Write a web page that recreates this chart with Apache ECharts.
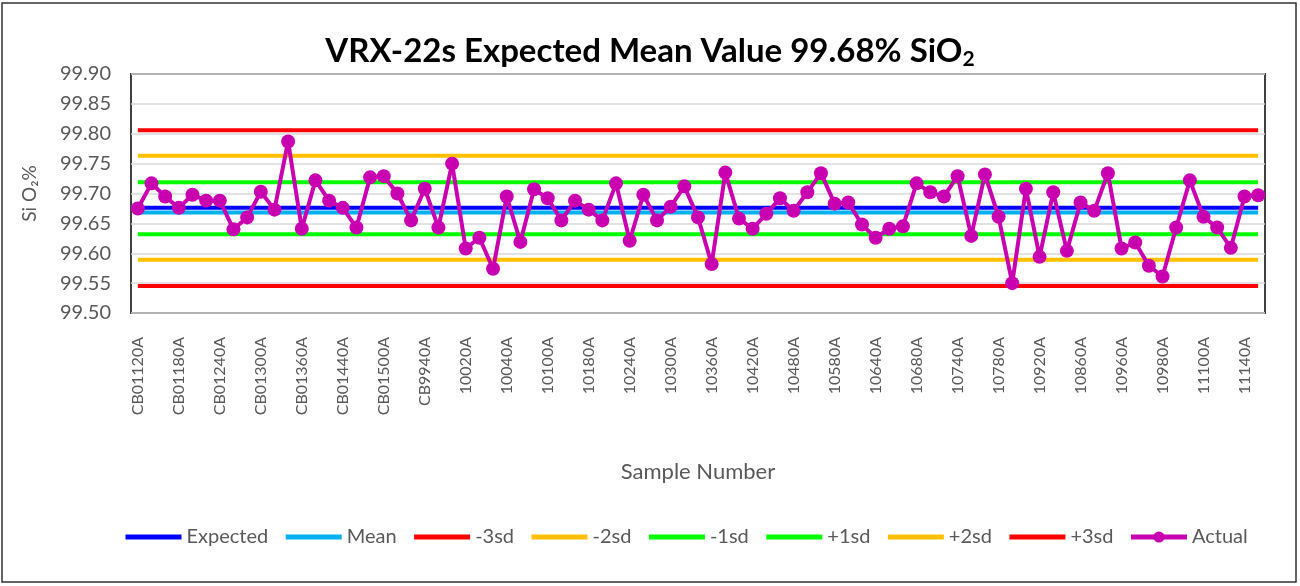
<!DOCTYPE html>
<html>
<head>
<meta charset="utf-8">
<script src="https://cdn.jsdelivr.net/npm/echarts@6/dist/echarts.min.js"></script>
<style>
  body { margin: 0; background: #fff; }
  #chart { width: 1300px; height: 586px; }
</style>
</head>
<body>
<div id="chart"></div>
<script>
// tick labels visible on the x axis (every third sample)
const shownLabels = [
  'CB01120A', 'CB01180A', 'CB01240A', 'CB01300A', 'CB01360A', 'CB01440A', 'CB01500A',
  'CB9940A', '10020A', '10040A', '10100A', '10180A', '10240A', '10300A',
  '10360A', '10420A', '10480A', '10580A', '10640A', '10680A', '10740A',
  '10780A', '10920A', '10860A', '10960A', '10980A', '11100A', '11140A'
]

// SiO2 % per sample
const actual = [
  99.675, 99.717, 99.695, 99.676, 99.698, 99.688, 99.688, 99.640, 99.660, 99.703,
  99.673, 99.787, 99.641, 99.722, 99.688, 99.676, 99.643, 99.727, 99.729, 99.700,
  99.655, 99.708, 99.643, 99.750, 99.608, 99.626, 99.574, 99.695, 99.619, 99.707,
  99.692, 99.655, 99.688, 99.673, 99.655, 99.717, 99.621, 99.698, 99.655, 99.678,
  99.712, 99.660, 99.582, 99.735, 99.658, 99.641, 99.666, 99.692, 99.671, 99.702,
  99.734, 99.683, 99.685, 99.648, 99.626, 99.641, 99.645, 99.717, 99.702, 99.695,
  99.729, 99.629, 99.732, 99.661, 99.550, 99.708, 99.594, 99.702, 99.604, 99.685,
  99.671, 99.734, 99.608, 99.618, 99.579, 99.561, 99.643, 99.722, 99.661, 99.643,
  99.609, 99.695, 99.697
]

// horizontal reference lines
const lineNames = ['Expected', 'Mean', '-3sd', '-2sd', '-1sd', '+1sd', '+2sd', '+3sd']
const lineValues = [99.676, 99.668, 99.545, 99.589, 99.632, 99.719, 99.763, 99.806]
const lineColors = ['#0000FF', '#00B0F0', '#FF0000', '#FFC000', '#00FF00', '#00FF00', '#FFC000', '#FF0000']

// build category list: only every third label is shown
let categories = []
for (let i = 0; i < actual.length; i++) {
  categories.push(i % 3 === 0 ? shownLabels[i / 3] : '')
}

const font = 'Lato, "Open Sans", sans-serif'
const grey = '#595959'

let series = []
let legendData = []
for (let i = 0; i < lineNames.length; i++) {
  series.push({
    name: lineNames[i],
    type: 'line',
    symbol: 'none',
    data: categories.map(function () { return lineValues[i] }),
    lineStyle: { width: 4, color: lineColors[i] },
    itemStyle: { color: lineColors[i] },
    silent: true
  })
  // plain line in the legend, no marker
  legendData.push({ name: lineNames[i], itemStyle: { opacity: 0 } })
}
series.push({
  name: 'Actual',
  type: 'line',
  data: actual,
  symbol: 'circle',
  symbolSize: 14,
  lineStyle: { width: 4, color: '#C800B0' },
  itemStyle: { color: '#C800B0' },
  z: 5
})
legendData.push({ name: 'Actual' })

let myChart = echarts.init(document.getElementById('chart'))
myChart.setOption({
  animation: false,
  textStyle: { fontFamily: font },
  title: {
    text: '{a|VRX-22s Expected Mean Value 99.68% SiO}{b|2}',
    left: 'center',
    top: 28,
    textStyle: {
      rich: {
        a: { fontSize: 33, fontWeight: 'bold', color: '#000', fontFamily: font },
        b: { fontSize: 21, fontWeight: 'bold', color: '#000', fontFamily: font, padding: [16, 0, 0, 0] }
      }
    }
  },
  graphic: [{
    type: 'rect',
    shape: { x: 2, y: 3, width: 1294, height: 579 },
    style: { fill: 'none', stroke: '#333', lineWidth: 1.5 },
    silent: true
  }],
  legend: {
    top: 522,
    left: 118,
    itemWidth: 56,
    itemHeight: 14,
    itemGap: 15,
    lineStyle: { width: 5 },
    textStyle: { color: grey, fontSize: 20, fontFamily: font },
    data: legendData
  },
  grid: {
    left: 131,
    right: 35,
    top: 74,
    bottom: 273,
    show: true,
    borderColor: '#404040',
    borderWidth: 2
  },
  xAxis: {
    type: 'category',
    data: categories,
    boundaryGap: true,
    name: 'Sample Number',
    nameLocation: 'middle',
    nameGap: 148,
    nameTextStyle: { color: grey, fontSize: 22 },
    axisLine: { show: false },
    axisTick: { show: false },
    axisLabel: { interval: 0, rotate: 90, color: grey, fontSize: 16, margin: 24 }
  },
  yAxis: {
    type: 'value',
    min: 99.5,
    max: 99.9,
    interval: 0.05,
    name: 'Si O₂%',
    nameLocation: 'middle',
    nameGap: 92,
    nameRotate: 90,
    nameTextStyle: { color: grey, fontSize: 19 },
    axisLine: { show: false },
    axisTick: { show: false },
    axisLabel: {
      color: grey,
      fontSize: 20,
      margin: 20,
      formatter: function (v) { return v.toFixed(2) }
    },
    splitLine: { lineStyle: { color: '#D9D9D9', width: 1.5 } }
  },
  series: series
})
</script>
</body>
</html>
